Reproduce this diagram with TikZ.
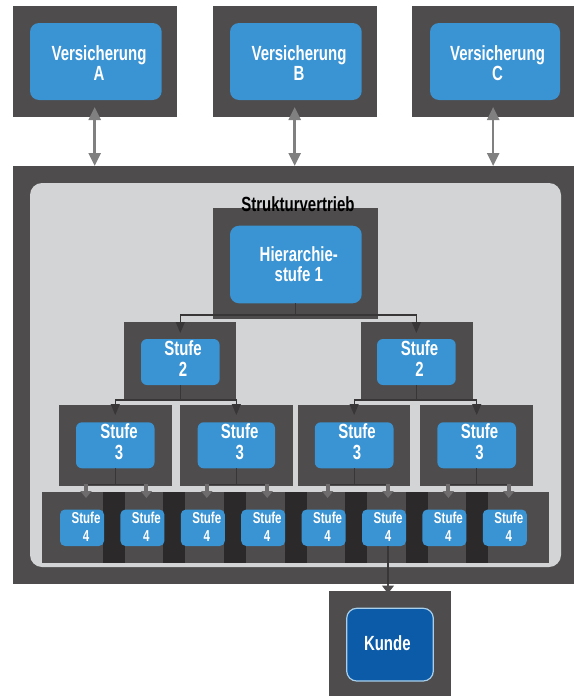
\documentclass[tikz,border=0pt]{standalone}
\usepackage{fontspec}
\setmainfont{Liberation Sans}[FakeStretch=0.73]
\usetikzlibrary{fit,arrows.meta}
\definecolor{dbox}{HTML}{4E4C4C}
\definecolor{bblue}{HTML}{3A93D3}
\definecolor{panelgray}{HTML}{D3D4D6}
\definecolor{bardark}{HTML}{2B2929}
\definecolor{kblue}{HTML}{0C5BA8}
\definecolor{kborder}{HTML}{A9CFEA}
\definecolor{arrgray}{HTML}{808080}
\definecolor{linedark}{HTML}{383636}
\definecolor{tipgray}{HTML}{6E6C6C}
\begin{document}
\begin{tikzpicture}[x=1pt,y=-1pt,
  darkbox/.style={fill=dbox, draw=none, inner sep=0pt, outer sep=0pt},
  bluebox/.style={fill=bblue, draw=none, rounded corners=#1, inner sep=0pt, outer sep=0pt},
  bluebox/.default=9pt,
  lbl/.style={text=white, align=center, inner sep=0pt, font=\bfseries\fontsize{20.5}{20}\selectfont},
  slbl/.style={lbl, font=\bfseries\fontsize{20.5}{21}\selectfont},
  smalltext/.style={lbl, font=\bfseries\fontsize{15.8}{18.7}\selectfont},
  dblarrow/.style={draw=arrgray, line width=2.5pt,
    {Triangle[length=13pt,width=12pt]}-{Triangle[length=13pt,width=12pt]}},
  tline/.style={draw=linedark, line width=1.1pt},
  tarrow/.style={tline, -{Triangle[length=11pt,width=9pt]}},
  garrow/.style={draw=tipgray, line width=4pt, -{Triangle[length=7pt,width=11pt]}},
  karrow/.style={draw=dbox, line width=1.1pt, -{Triangle[length=8pt,width=12pt]}}
]
\fill[white] (0,0) rectangle (574,696);
\useasboundingbox (0,0) rectangle (574,696);

% container
\node[darkbox, fit={(13.3,166) (574,584.3)}] (big) {};
\node[fill=panelgray, rounded corners=12pt, inner sep=0pt, outer sep=0pt, fit={(30,183) (561,567)}] (panel) {};

% insurers
\node[darkbox, fit={(12.7,6) (176.7,116.7)}] (ka) {};
\node[bluebox, fit={(30,23) (161.7,100)}] (va) {};
\node[lbl] (la) at (99,62.7) {Versicherung\\A};
\node[darkbox, fit={(212.7,6) (376.7,116.7)}] (kb) {};
\node[bluebox, fit={(230,23) (361.7,100)}] (vb) {};
\node[lbl] (lb) at (299,62.7) {Versicherung\\B};
\node[darkbox, fit={(412.3,6) (574,116.7)}] (kc) {};
\node[bluebox, fit={(430,23) (560,100)}] (vc) {};
\node[lbl] (lc) at (497.5,62.7) {Versicherung\\C};

\draw[dblarrow] ([yshift=9.7pt]ka.south) -- (ka.south |- big.north);
\draw[dblarrow] ([yshift=9.7pt]kb.south) -- (kb.south |- big.north);
\draw[dblarrow] ([yshift=9.7pt]kc.south) -- (kc.south |- big.north);

% level 1
\node[darkbox, fit={(212.7,208.3) (377.7,319.3)}] (kh) {};
\node[bluebox, fit={(230,225.7) (361.7,303.3)}] (h) {};
\node[lbl] (lh) at (298.8,264.4) {Hierarchie-\\stufe 1};
\node[anchor=base, inner sep=0pt, text=black, font=\bfseries\fontsize{20.5}{20}\selectfont] (title) at (298,211.7) {Strukturvertrieb};

% level 2
\node[darkbox, fit={(123.7,321.7) (236,399.5)}] (k2a) {};
\node[bluebox=6pt, fit={(141,339) (219.6,385)}] (s2a) {};
\node[slbl] (l2a) at (183,358.9) {Stufe\\2};
\node[darkbox, fit={(360.5,321.7) (473.3,399.5)}] (k2b) {};
\node[bluebox=6pt, fit={(377,339) (455.7,385)}] (s2b) {};
\node[slbl] (l2b) at (419.5,358.9) {Stufe\\2};

% level 3
\foreach \n/\a/\b/\c/\d/\t in {1/58.6/172/76/154.5/119, 2/180/292.8/197.7/275/239.7, 3/297.6/410/314.8/393.5/357, 4/420/533.3/437.4/516/479.5} {
  \node[darkbox, fit={(\a,404.5) (\b,485.7)}] (k3\n) {};
  \node[bluebox=6pt, fit={(\c,422.3) (\d,468.3)}] (s3\n) {};
  \node[slbl] (l3\n) at (\t,441.5) {Stufe\\3};
}

% level 4
\node[darkbox, fit={(42,491.7) (549,563.3)}] (strip) {};
\foreach \x in {113.5,174,235,295.7,355.8,416.5,477}
  \fill[bardark] (\x-11,491.7) rectangle (\x+11,563.3);
\foreach \i [evaluate=\i as \cx using 86+60.4*\i] in {0,...,7} {
  \node[bluebox=5pt, fit={(\cx-26,509.5) (\cx+18,546)}] (s4\i) {};
  \node[smalltext] (t4\i) at (\cx,526.7) {Stufe\\4};
}

% connectors
\coordinate (j1) at (0,315);
\coordinate (j2) at (0,400);
\coordinate (j3) at (0,484.3);
\coordinate (r4) at (0,498);
\coordinate (r5) at (0,593.5);

\draw[tline] (h.south) -- (h.south |- j1);
\draw[tarrow] (h.south |- j1) -| ([yshift=6pt]s2a.north);
\draw[tarrow] (h.south |- j1) -| ([yshift=6pt]s2b.north);

\draw[tline] (s2a.south) -- (s2a.south |- j2);
\draw[tarrow] (s2a.south |- j2) -| ([yshift=7.3pt]s31.north);
\draw[tarrow] (s2a.south |- j2) -| ([yshift=7.3pt]s32.north);
\draw[tline] (s2b.south) -- (s2b.south |- j2);
\draw[tarrow] (s2b.south |- j2) -| ([yshift=7.3pt]s33.north);
\draw[tarrow] (s2b.south |- j2) -| ([yshift=7.3pt]s34.north);

\foreach \a/\p/\q in {1/0/1, 2/2/3, 3/4/5, 4/6/7} {
  \draw[tline] (s3\a.south) -- (s3\a.south |- j3);
  \draw[tline] (t4\p |- j3) -- (t4\q |- j3);
  \draw[garrow] (t4\p |- j3) -- (t4\p |- r4);
  \draw[garrow] (t4\q |- j3) -- (t4\q |- r4);
}

% customer
\node[darkbox, fit={(329.3,590.7) (451,696)}] (kk) {};
\node[fill=kblue, draw=kborder, line width=1.2pt, rounded corners=10pt, inner sep=0pt, outer sep=0pt,
  fit={(346.7,608.3) (433.3,681)}] (kunde) {};
\node[lbl] (lk) at (387.3,643.2) {Kunde};
\draw[tline] (t45 |- s45.south) -- (t45 |- big.south);
\draw[karrow] (t45 |- big.south) -- (t45 |- r5);
\end{tikzpicture}
\end{document}
